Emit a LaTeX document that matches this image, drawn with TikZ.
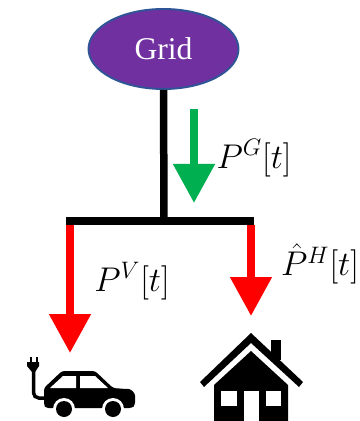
\documentclass[tikz,border=0pt]{standalone}
\usepackage{fontspec}
\setmainfont{Liberation Serif}
\usetikzlibrary{arrows.meta,shapes.geometric}
\definecolor{gridfill}{HTML}{7030A0}
\definecolor{gridline}{HTML}{2F5597}
\definecolor{flowgreen}{HTML}{00B050}
\tikzset{
    gridnode/.style={ellipse, draw=gridline, line width=1.1pt, fill=gridfill, text=white, minimum width=150*0.02cm, minimum height=80*0.02cm, inner sep=0pt, font=\fontsize{18}{20}\selectfont},
    busline/.style={line width=7.5*0.02cm},
    flowarrow/.style={line width=8*0.02cm, -{Triangle[length=39*0.02cm, width=40*0.02cm]}},
    flowlabel/.style={font=\LARGE, scale=1.13, inner sep=0pt}
}
\begin{document}
\begin{tikzpicture}[x=0.02cm, y=-0.02cm]
    \useasboundingbox (0,0) rectangle (359,421);

    \coordinate (busL) at (66,221);
    \coordinate (busR) at (254,221);
    \coordinate (busC) at (164,221);
    \coordinate (gridStart) at (194,109);
    \coordinate (gridEnd) at (194,203);
    \coordinate (carStart) at (70,225);
    \coordinate (carEnd) at (70,353);
    \coordinate (homeStart) at (251,225);
    \coordinate (homeEnd) at (251,316);

    \node[gridnode] (grid) at (163.5,49) {Grid};

    \draw[busline] (grid.south) -- (busC);
    \draw[busline] (busL) -- (busR);

    % Power flows
    \draw[flowarrow, flowgreen] (gridStart) -- (gridEnd);
    \draw[flowarrow, red] (carStart) -- (carEnd);
    \draw[flowarrow, red] (homeStart) -- (homeEnd);

    \node[flowlabel] (pg) at (254,158) {$P^{G}[t]$};
    \node[flowlabel] (pv) at (132,281) {$P^{V}[t]$};
    \node[flowlabel] (ph) at (320,264) {$\hat{P}^{H}[t]$};

    % Car
    \fill[rounded corners=1.5] (44,388) -- (62,371) -- (95,371) -- (113,388) -- (126,389)
        to[out=0, in=90] (135,398) -- (135,405) -- (132,408) -- (46,408) -- (44,405) -- cycle;
    \fill[white] (50,388) -- (63,376) -- (76,376) -- (76,388) -- cycle;
    \fill[white] (80,376) -- (95,376) -- (108,388) -- (80,388) -- cycle;
    \fill[white] (64,409) circle (11) (113,409) circle (11);
    \fill (64,409) circle (8) (113,409) circle (8);

    % Plug and cord
    \fill (27,362) -- (39,362) -- (39,366) -- (35,372) -- (32,372) -- (27,366) -- cycle;
    \draw[line width=2.5*0.02cm] (31,357) -- (31,362) (37,357) -- (37,362);
    \draw[line width=3.5*0.02cm, rounded corners=3] (33.5,371) -- (33.5,398) -- (44,398);

    % House
    \fill (200,382) -- (251,333) -- (303,382) -- (299,387) -- (251,343) -- (204,387) -- cycle;
    \fill (271,340) rectangle (281,360);
    \fill (251,351) -- (288,385) -- (288,421) -- (214,421) -- (214,385) -- cycle;
    \fill[white] (221,391) rectangle (237,406);
    \fill[white] (266,391) rectangle (281,406);
    \fill[white] (244,391) rectangle (259,421);
\end{tikzpicture}
\end{document}
